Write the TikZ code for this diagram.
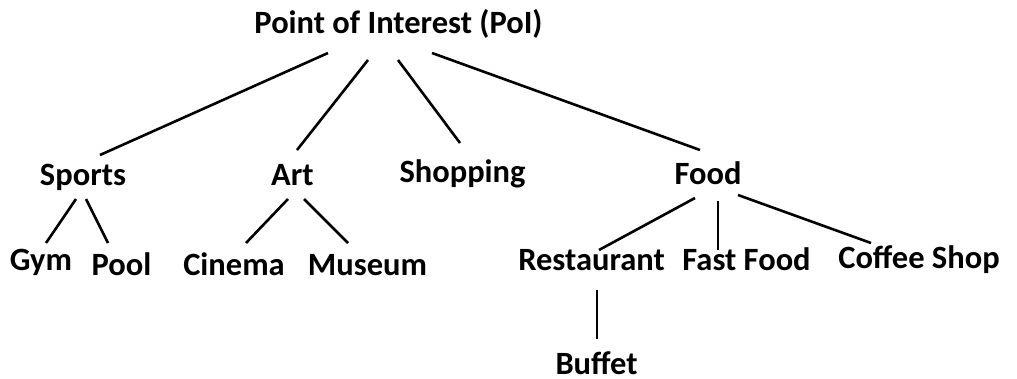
\documentclass[tikz,border=0pt]{standalone}
\usepackage{fontspec}
\setmainfont{Carlito}
\begin{document}
\begin{tikzpicture}[x=1pt,y=-1pt,
  label/.style={anchor=base,inner sep=0pt,font=\fontsize{32.5}{36}\selectfont\bfseries},
  edge/.style={line width=2.6pt,black}]
\useasboundingbox[fill=white] (0,0) rectangle (1017,378);

% category labels (placed by text centre and baseline)
\node[label] (poi)        at (398.5,33)  {Point of Interest (PoI)};
\node[label] (sports)     at (83,185)    {Sports};
\node[label] (art)        at (292.5,185) {Art};
\node[label] (shopping)   at (462.5,182) {Shopping};
\node[label] (food)       at (708,184)   {Food};
\node[label] (gym)        at (41,270)    {Gym};
\node[label] (pool)       at (121.5,275) {Pool};
\node[label] (cinema)     at (234,275)   {Cinema};
\node[label] (museum)     at (367.5,275) {Museum};
\node[label] (restaurant) at (591.5,270) {Restaurant};
\node[label] (fastfood)   at (746.5,270) {Fast Food};
\node[label] (coffee)     at (919,268)   {Coffee Shop};
\node[label] (buffet)     at (596.5,374) {Buffet};

% hierarchy edges
\draw[edge] ([shift={(-70.5,20)}]poi.base) -- ([shift={(17,-30)}]sports.base);
\draw[edge] ([shift={(-30.5,27)}]poi.base) -- ([shift={(4.5,-35)}]art.base);
\draw[edge] ([shift={(-0.5,27)}]poi.base)  -- ([shift={(-2.5,-39)}]shopping.base);
\draw[edge] ([shift={(33.5,20)}]poi.base)  -- ([shift={(-8,-34)}]food.base);

\draw[edge] ([shift={(-7,14)}]sports.base) -- ([shift={(5,-27)}]gym.base);
\draw[edge] ([shift={(3,14)}]sports.base)  -- ([shift={(-13.5,-32)}]pool.base);

\draw[edge] ([shift={(-4.5,14)}]art.base)  -- ([shift={(12,-32)}]cinema.base);
\draw[edge] ([shift={(11.5,14)}]art.base)  -- ([shift={(-19.5,-32)}]museum.base);

\draw[edge] ([shift={(-13,14)}]food.base)  -- ([shift={(7.5,-20)}]restaurant.base);
\draw[edge] ([shift={(10,17)}]food.base)   -- ([shift={(-28.5,-20)}]fastfood.base);
\draw[edge] ([shift={(30,11)}]food.base)   -- ([shift={(-48,-25)}]coffee.base);

\draw[edge] ([shift={(5.5,20)}]restaurant.base) -- ([shift={(0.5,-35)}]buffet.base);
\end{tikzpicture}
\end{document}
